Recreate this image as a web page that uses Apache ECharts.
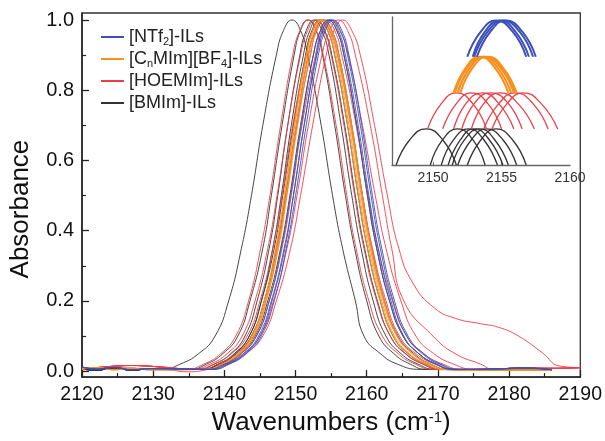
<!DOCTYPE html>
<html>
<head>
<meta charset="utf-8">
<script src="https://cdn.jsdelivr.net/npm/echarts@6/dist/echarts.min.js"></script>
<style>
html,body{margin:0;padding:0;background:#fff;}
#chart{width:605px;height:441px;}
</style>
</head>
<body>
<div id="chart"></div>
<script>
// ---- data ----
// absorbance levels at which each spectrum's wavenumber crossings were read (left flank, peak, right flank)
const absorbanceLevels = [0.005, 0.02, 0.05, 0.1, 0.2, 0.35, 0.5, 0.7, 0.9, 0.97, 1.0, 0.97, 0.9, 0.7, 0.5, 0.35, 0.2, 0.1, 0.05, 0.02, 0.005];

// [NTf2]-ILs (blue)
const ntf2Crossings = [
  [2137.6, 2140.0, 2142.4, 2144.5, 2146.3, 2148.0, 2149.3, 2150.8, 2152.5, 2153.5, 2154.6, 2155.8, 2156.8, 2158.6, 2160.1, 2161.4, 2163.2, 2165.1, 2167.3, 2169.7, 2172.2],
  [2138.3, 2140.6, 2142.9, 2145.0, 2146.7, 2148.5, 2149.7, 2151.2, 2152.9, 2153.8, 2154.9, 2156.0, 2157.0, 2158.8, 2160.3, 2161.6, 2163.4, 2165.2, 2167.3, 2169.8, 2172.2],
  [2137.8, 2140.3, 2142.7, 2144.8, 2146.6, 2148.4, 2149.7, 2151.2, 2153.0, 2154.0, 2155.1, 2156.3, 2157.3, 2159.1, 2160.6, 2161.9, 2163.7, 2165.6, 2167.8, 2170.2, 2172.7],
  [2138.3, 2140.7, 2143.1, 2145.2, 2147.0, 2148.7, 2150.0, 2151.5, 2153.2, 2154.2, 2155.3, 2156.5, 2157.5, 2159.3, 2160.8, 2162.1, 2163.9, 2165.8, 2168.0, 2170.4, 2172.9]
];
// [CnMIm][BF4]-ILs (orange)
const bf4Crossings = [
  [2137.4, 2139.7, 2141.9, 2143.9, 2145.6, 2147.2, 2148.4, 2149.8, 2151.5, 2152.4, 2153.4, 2154.5, 2155.5, 2157.3, 2158.8, 2160.1, 2161.9, 2163.7, 2165.8, 2168.3, 2170.7],
  [2137.3, 2139.6, 2141.9, 2143.9, 2145.6, 2147.3, 2148.5, 2149.9, 2151.6, 2152.5, 2153.6, 2154.7, 2155.7, 2157.5, 2159.0, 2160.3, 2162.1, 2163.9, 2166.0, 2168.5, 2170.9],
  [2137.7, 2140.0, 2142.2, 2144.2, 2145.9, 2147.5, 2148.7, 2150.1, 2151.8, 2152.7, 2153.7, 2154.9, 2155.9, 2157.7, 2159.2, 2160.5, 2162.3, 2164.2, 2166.4, 2168.8, 2171.3],
  [2137.5, 2139.8, 2142.1, 2144.1, 2145.8, 2147.5, 2148.7, 2150.1, 2151.8, 2152.7, 2153.8, 2155.0, 2156.0, 2157.8, 2159.3, 2160.6, 2162.4, 2164.3, 2166.5, 2168.9, 2171.4],
  [2137.4, 2139.7, 2142.0, 2144.1, 2145.8, 2147.6, 2148.8, 2150.3, 2152.0, 2152.9, 2154.0, 2155.1, 2156.1, 2157.9, 2159.4, 2160.7, 2162.5, 2164.3, 2166.4, 2168.9, 2171.3]
];
// [HOEMIm]-ILs (red)
const hoemimCrossings = [
  [2134.7, 2137.1, 2139.5, 2141.6, 2143.4, 2145.1, 2146.4, 2147.9, 2149.6, 2150.6, 2151.7, 2152.9, 2153.9, 2155.7, 2157.2, 2158.5, 2160.3, 2162.2, 2164.4, 2166.8, 2169.3],
  [2135.5, 2138.0, 2140.4, 2142.5, 2144.3, 2146.1, 2147.4, 2148.9, 2150.7, 2151.7, 2152.8, 2154.0, 2155.0, 2156.8, 2158.3, 2159.6, 2161.4, 2163.3, 2165.5, 2167.9, 2170.4],
  [2136.0, 2138.5, 2141.0, 2143.2, 2145.0, 2146.8, 2148.1, 2149.6, 2151.5, 2152.4, 2153.6, 2154.8, 2155.9, 2157.8, 2159.4, 2160.8, 2162.7, 2164.6, 2166.9, 2169.6, 2172.2],
  [2136.6, 2139.1, 2141.6, 2143.8, 2145.6, 2147.4, 2148.7, 2150.2, 2152.1, 2153.0, 2154.2, 2155.5, 2156.5, 2158.5, 2160.2, 2161.6, 2163.6, 2165.6, 2168.0, 2170.7, 2173.4],
  [2137.3, 2139.8, 2142.3, 2144.5, 2146.3, 2148.1, 2149.4, 2150.9, 2152.8, 2153.7, 2154.9, 2156.2, 2157.4, 2159.4, 2161.2, 2162.7, 2164.8, 2166.9, 2169.4, 2172.2, 2175.1],
  [2137.4, 2140.1, 2142.7, 2145.0, 2146.9, 2148.8, 2150.2, 2151.8, 2153.7, 2154.8, 2156.0, 2157.3, 2158.4, 2160.5, 2162.2, 2163.5, 2165.2, 2169.3, 2172.4, 2176.0, 2177.8]
];
// the [HOEMIm] spectrum with the high-wavenumber shoulder
const shoulderWavenumbers = [2120, 2124, 2128, 2132, 2135, 2137.7, 2140.4, 2143.0, 2145.4, 2147.3, 2149.3, 2150.7, 2152.4, 2154.3, 2155.4, 2156.6, 2157.9, 2159.1, 2161.1, 2162.9, 2164.5, 2166.5, 2169.5, 2172.5, 2176.0, 2178.5, 2181.3, 2184.8, 2187.0, 2190];
const shoulderAbsorbance = [0.006, 0.01, 0.008, 0.004, -0.002, 0.005, 0.02, 0.05, 0.1, 0.2, 0.35, 0.5, 0.7, 0.9, 0.97, 1.0, 0.97, 0.9, 0.7, 0.5, 0.35, 0.25, 0.18, 0.15, 0.135, 0.125, 0.1, 0.05, 0.015, 0.01];
// [BMIm]-ILs (black)
const bmimCrossings = [
  [2131.3, 2133.8, 2136.4, 2138.7, 2140.6, 2142.4, 2143.8, 2145.4, 2147.3, 2148.3, 2149.5, 2150.7, 2151.7, 2153.6, 2155.2, 2156.6, 2158.4, 2159.6, 2161.9, 2164.3, 2167.5],
  [2135.2, 2137.5, 2139.8, 2141.9, 2143.6, 2145.4, 2146.6, 2148.1, 2149.8, 2150.7, 2151.8, 2152.9, 2153.8, 2155.5, 2157.0, 2158.3, 2160.0, 2161.7, 2163.8, 2166.1, 2168.4],
  [2136.3, 2138.6, 2140.9, 2142.9, 2144.6, 2146.3, 2147.5, 2148.9, 2150.6, 2151.5, 2152.6, 2153.7, 2154.7, 2156.4, 2157.9, 2159.2, 2160.9, 2162.7, 2164.8, 2167.2, 2169.6],
  [2137.0, 2139.3, 2141.5, 2143.5, 2145.2, 2146.8, 2148.0, 2149.4, 2151.1, 2152.0, 2153.0, 2154.1, 2155.1, 2156.9, 2158.4, 2159.7, 2161.5, 2163.3, 2165.4, 2167.9, 2170.3],
  [2136.8, 2139.1, 2141.4, 2143.5, 2145.2, 2147.0, 2148.2, 2149.7, 2151.4, 2152.3, 2153.4, 2154.5, 2155.5, 2157.3, 2158.8, 2160.1, 2161.9, 2163.7, 2165.8, 2168.3, 2170.7],
  [2136.9, 2139.3, 2141.7, 2143.8, 2145.6, 2147.3, 2148.6, 2150.1, 2151.8, 2152.8, 2153.9, 2155.1, 2156.1, 2157.9, 2159.4, 2160.7, 2162.5, 2164.4, 2166.6, 2169.0, 2171.5],
  [2137.3, 2139.8, 2142.2, 2144.3, 2146.1, 2147.9, 2149.2, 2150.7, 2152.5, 2153.5, 2154.6, 2155.8, 2156.8, 2158.6, 2160.1, 2161.4, 2163.2, 2165.1, 2167.3, 2169.7, 2172.2]
];
// baselines (noise level) read on both sides of the band
const baseLeftX = [2120, 2122, 2124.5, 2127, 2129.5];
const ntf2BaseLeft = [0.012, 0.006, 0.01, 0.004, 0.007];
const bf4BaseLeft = [0.006, 0.01, 0.004, 0.008, 0.004];
const hoemimBaseLeft = [0.008, 0.01, 0.014, 0.016, 0.014];
const bmimBaseLeft = [0.006, 0.003, 0.008, 0.003, 0.006];
const baseRightX = [2178, 2182, 2186];
const ntf2BaseRight = [0.006, 0.009, 0.004];
const bf4BaseRight = [0.002, 0.003, 0.002];
const bmimBaseRight = [0.004, 0.006, 0.005];
const hoemimBaseRightX = [2178, 2182, 2186, 2190];
const hoemimBaseRight = [0.006, 0.009, 0.008, 0.01];

// axis ticks
const yTickLabels = [0, 0.2, 0.4, 0.6, 0.8, 1.0];
const yMinorTicks = [0.1, 0.3, 0.5, 0.7, 0.9];
const insetTickLabels = [2150, 2155, 2160];

// ---- build ----
const groups = [
  {name: 'BMIm', color: '#333333', crossings: bmimCrossings, bl: bmimBaseLeft, brx: baseRightX, br: bmimBaseRight, insetOffset: 0, insetWidth: 1.3},
  {name: 'HOEMIm', color: '#ee3d47', crossings: hoemimCrossings, bl: hoemimBaseLeft, brx: hoemimBaseRightX, br: hoemimBaseRight, insetOffset: 0.1, insetWidth: 1.3},
  {name: 'CnMImBF4', color: '#f7901e', crossings: bf4Crossings, bl: bf4BaseLeft, brx: baseRightX, br: bf4BaseRight, insetOffset: 0.2, insetWidth: 2},
  {name: 'NTf2', color: '#3d4fb8', crossings: ntf2Crossings, bl: ntf2BaseLeft, brx: baseRightX, br: ntf2BaseRight, insetOffset: 0.3, insetWidth: 2}
];

function buildCurve(cr, bl, brx, br) {
  const pts = [];
  baseLeftX.forEach((x, i) => pts.push([x, bl[i]]));
  cr.forEach((x, i) => pts.push([x, absorbanceLevels[i]]));
  brx.forEach((x, i) => pts.push([x, br[i]]));
  return pts;
}

const series = [];
const insetSeries = [];
function addCurve(g, pts) {
  series.push({
    name: g.name, type: 'line', data: pts, xAxisIndex: 0, yAxisIndex: 0,
    showSymbol: false, smooth: 0.5,
    lineStyle: {color: g.color, width: 1, opacity: 0.9},
    itemStyle: {color: g.color}, silent: true
  });
  insetSeries.push({
    name: g.name, type: 'line', xAxisIndex: 1, yAxisIndex: 2,
    data: pts.filter(p => p[1] >= 0.9).map(p => [p[0], p[1] + g.insetOffset]),
    showSymbol: false, smooth: 0.5,
    lineStyle: {color: g.color, width: g.insetWidth},
    itemStyle: {color: g.color}, silent: true
  });
}
groups.forEach(g => {
  g.crossings.forEach(cr => addCurve(g, buildCurve(cr, g.bl, g.brx, g.br)));
  if (g.name === 'HOEMIm') {
    addCurve(g, shoulderWavenumbers.map((x, i) => [x, shoulderAbsorbance[i]]));
  }
});

const font = 'Liberation Sans, Arial, sans-serif';
const legendNames = {
  'NTf2': '[NTf{s|2}]-ILs',
  'CnMImBF4': '[C{s|n}MIm][BF{s|4}]-ILs',
  'HOEMIm': '[HOEMIm]-ILs',
  'BMIm': '[BMIm]-ILs'
};

const chart = echarts.init(document.getElementById('chart'), null, {renderer: 'canvas'});
chart.setOption({
  animation: false,
  backgroundColor: '#fff',
  grid: [
    {left: 80, right: 24, top: 13, bottom: 58, show: true, borderColor: '#333', borderWidth: 1.3, backgroundColor: 'transparent'},
    {left: 392, top: 17, width: 178, height: 148}
  ],
  legend: {
    data: ['NTf2', 'CnMImBF4', 'HOEMIm', 'BMIm'],
    orient: 'vertical', left: 96, top: 22,
    icon: 'rect', itemWidth: 23, itemHeight: 2, itemGap: 2,
    formatter: n => legendNames[n],
    textStyle: {
      fontSize: 18, fontFamily: font, color: '#222', lineHeight: 20,
      rich: {s: {fontSize: 11, fontFamily: font, color: '#222', verticalAlign: 'bottom', lineHeight: 14}}
    },
    selectedMode: false
  },
  xAxis: [
    {
      type: 'value', gridIndex: 0, min: 2120, max: 2190, interval: 10,
      axisLine: {show: true, onZero: false, lineStyle: {color: '#222', width: 1.5}},
      axisTick: {show: true, inside: true, length: 7, lineStyle: {color: '#222', width: 1.3}},
      minorTick: {show: true, splitNumber: 2, length: 4, lineStyle: {color: '#222', width: 1.2}},
      axisLabel: {fontSize: 19.5, fontFamily: font, color: '#111', margin: 8, formatter: v => String(v)},
      splitLine: {show: false},
      name: 'Wavenumbers (cm{sup|-1})', nameLocation: 'middle', nameGap: 29,
      nameTextStyle: {fontSize: 26, fontFamily: font, color: '#111',
        rich: {sup: {fontSize: 15, fontFamily: font, color: '#111', verticalAlign: 'top', lineHeight: 26}}}
    },
    {
      type: 'value', gridIndex: 1, min: 2147, max: 2160,
      axisLine: {show: true, onZero: false, lineStyle: {color: '#666', width: 1.3}},
      axisTick: {show: true, inside: true, length: 3, customValues: [2150, 2155], lineStyle: {color: '#666'}},
      axisLabel: {customValues: insetTickLabels, fontSize: 14, fontFamily: font, color: '#333', margin: 6, formatter: v => String(v)},
      splitLine: {show: false}
    }
  ],
  yAxis: [
    {
      type: 'value', gridIndex: 0, min: -0.017, max: 1.02,
      axisLine: {show: true, onZero: false, lineStyle: {color: '#222', width: 1.5}},
      axisTick: {show: true, inside: true, length: 7, customValues: yTickLabels, lineStyle: {color: '#222', width: 1.3}},
      axisLabel: {customValues: yTickLabels, formatter: v => v.toFixed(1), fontSize: 20, fontFamily: font, color: '#111', margin: 8},
      splitLine: {show: false},
      name: 'Absorbance', nameLocation: 'middle', nameGap: 48,
      nameTextStyle: {fontSize: 26, fontFamily: font, color: '#111', padding: [0, 28, 0, 0]}
    },
    {
      type: 'value', gridIndex: 0, min: -0.017, max: 1.02, position: 'left',
      axisLine: {show: false, onZero: false},
      axisTick: {show: true, inside: true, length: 4, customValues: yMinorTicks, lineStyle: {color: '#222', width: 1.2}},
      axisLabel: {show: false},
      splitLine: {show: false}
    },
    {
      type: 'value', gridIndex: 1, min: 0.9, max: 1.31,
      axisLine: {show: true, onZero: false, lineStyle: {color: '#666', width: 1.3}},
      axisTick: {show: false}, axisLabel: {show: false}, splitLine: {show: false}
    }
  ],
  series: series.concat(insetSeries)
});
</script>
</body>
</html>
